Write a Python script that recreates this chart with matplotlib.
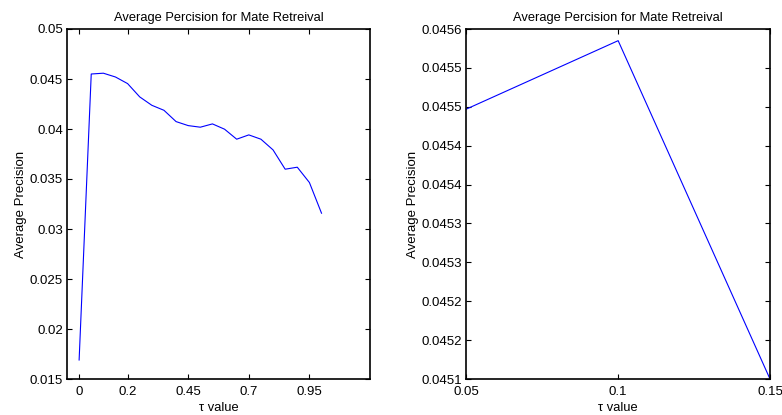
import numpy as np
import matplotlib
matplotlib.use('Agg')
import matplotlib.pyplot as plt

plt.rcParams['font.family'] = ['Liberation Sans', 'DejaVu Sans']

# left panel: full tau sweep
tau_all = [0.0, 0.05, 0.1, 0.15, 0.2, 0.25, 0.3, 0.35, 0.4, 0.45, 0.5,
           0.55, 0.6, 0.65, 0.7, 0.75, 0.8, 0.85, 0.9, 0.95, 1.0]
ap_all = [0.0169, 0.0455, 0.04558, 0.0452, 0.04454, 0.04321, 0.04237, 0.04187,
          0.04074, 0.04034, 0.04018, 0.04051, 0.03998, 0.03898, 0.03941,
          0.03898, 0.03791, 0.03598, 0.03618, 0.03465, 0.03158]
left_xticks = [0, 0.2, 0.45, 0.7, 0.95]
left_yticks = [0.015, 0.02, 0.025, 0.03, 0.035, 0.04, 0.045, 0.05]

# right panel: zoom on the peak
tau_zoom = [0.05, 0.1, 0.15]
ap_zoom = [0.045497, 0.045585, 0.04515]
right_xticks = [0.05, 0.1, 0.15]
right_yticks = [0.04515, 0.0452, 0.04525, 0.0453, 0.04535, 0.0454,
                0.04545, 0.0455, 0.04555, 0.0456]
right_ylabels = ['0.0451', '0.0452', '0.0452', '0.0453', '0.0453', '0.0454',
                 '0.0454', '0.0455', '0.0455', '0.0456']

W, H = 782, 415
fig = plt.figure(figsize=(W / 100, H / 100), dpi=100)
ax1 = fig.add_axes([67 / W, 36 / H, 303 / W, 350 / H])
ax2 = fig.add_axes([466.3 / W, 36 / H, 303.7 / W, 350 / H])

def style(ax):
    ax.tick_params(direction='in', top=True, right=True, length=3.5,
                   width=0.8, labelsize=9.5)
    ax.tick_params(axis='x', pad=5)
    ax.tick_params(axis='y', pad=3)
    for s in ax.spines.values():
        s.set_linewidth(1.2)
    ax.set_title('Average Percision for Mate Retreival', fontsize=9.3, pad=6)
    ax.set_xlabel('\u03c4 value', fontsize=9.3, labelpad=3)
    ax.set_ylabel('Average Precision', fontsize=9.5, labelpad=2)

ax1.plot(tau_all, ap_all, color='#0000ff', lw=0.8)
ax1.set_xlim(-0.05, 1.2)
ax1.set_ylim(0.015, 0.05)
ax1.set_xticks(left_xticks)
ax1.set_xticklabels(['%g' % v for v in left_xticks])
ax1.set_yticks(left_yticks)
ax1.set_yticklabels(['%g' % v for v in left_yticks])
style(ax1)

ax2.plot(tau_zoom, ap_zoom, color='#0000ff', lw=0.8, clip_on=False)
ax2.set_xlim(0.05, 0.15)
ax2.set_ylim(0.04515, 0.0456)
ax2.set_xticks(right_xticks)
ax2.set_xticklabels(['%g' % v for v in right_xticks])
ax2.set_yticks(right_yticks)
ax2.set_yticklabels(right_ylabels)
style(ax2)

fig.savefig('out.png', dpi=100)
